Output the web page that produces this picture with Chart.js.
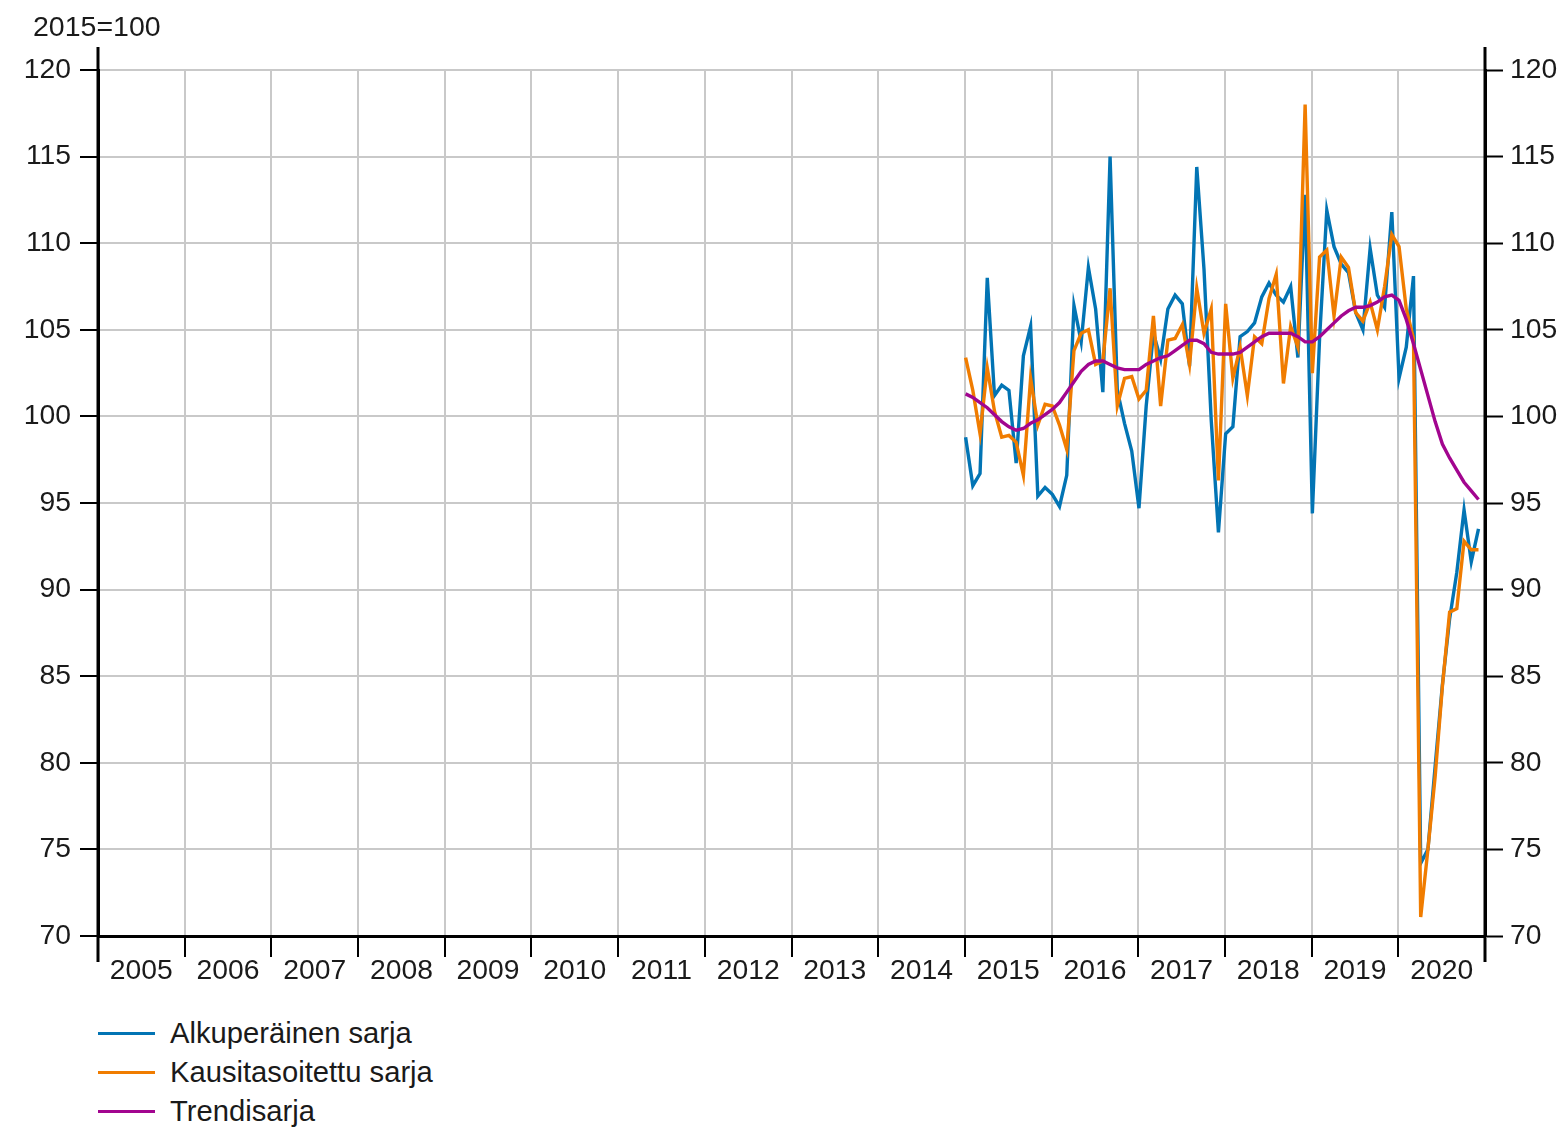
<!DOCTYPE html>
<html><head><meta charset="utf-8">
<script src="https://cdn.jsdelivr.net/npm/chart.js@4/dist/chart.umd.min.js"></script>
<style>
html,body{margin:0;padding:0;background:#fff;}
#wrap{position:relative;width:1568px;height:1128px;overflow:hidden;}
#c{position:absolute;left:0;top:0;}
#unit{position:absolute;left:33px;top:10px;font:28.5px "Liberation Sans",Arial,sans-serif;color:#1a1a1a;line-height:32px;}
#legend{position:absolute;left:98px;top:1014px;font:29.2px "Liberation Sans",Arial,sans-serif;color:#1a1a1a;}
.item{display:flex;align-items:center;height:39px;}
.sw{width:57px;height:3px;margin-right:15px;}
</style></head>
<body><div id="wrap"><canvas id="c" width="1568" height="1000"></canvas><div id="unit">2015=100</div><div id="legend"></div></div>
<script>
// Category (year) labels on the x axis
const years = ["2005","2006","2007","2008","2009","2010","2011","2012","2013","2014","2015","2016","2017","2018","2019","2020"];
// Monthly data, January 2015 - December 2020
const startYear = 2015;
const seriesNames = ["Alkuperäinen sarja", "Kausitasoitettu sarja", "Trendisarja"];
const original = [
  98.8, 96.0, 96.7, 108.0, 101.2, 101.8, 101.5, 97.3, 103.5, 105.2, 95.4, 95.9,
  95.5, 94.8, 96.6, 106.4, 104.3, 108.6, 106.2, 101.4, 115.0, 101.5, 99.6, 98.0,
  94.7, 100.6, 104.8, 103.3, 106.2, 107.0, 106.5, 102.9, 114.4, 108.5, 99.8, 93.3,
  99.0, 99.4, 104.6, 104.9, 105.4, 106.9, 107.7, 107.0, 106.6, 107.5, 103.4, 112.8,
  94.4, 104.5, 111.9, 109.8, 108.8, 108.3, 106.0, 105.0, 109.7, 107.0, 106.3, 111.8,
  102.2, 104.0, 108.1, 74.2, 75.0, 79.8, 84.5, 88.3, 91.0, 94.6, 91.6, 93.5
];
const adjusted = [
  103.4, 101.5, 99.0, 102.8, 100.3, 98.8, 98.9, 98.5, 96.6, 102.2, 99.5, 100.7,
  100.6, 99.5, 98.1, 103.8, 104.8, 105.0, 103.0, 103.2, 107.4, 100.6, 102.2, 102.3,
  101.0, 101.5, 105.8, 100.6, 104.4, 104.5, 105.3, 103.0, 107.4, 104.8, 106.2, 96.3,
  106.5, 102.2, 104.0, 101.2, 104.6, 104.2, 106.8, 108.2, 101.9, 105.2, 104.0, 118.0,
  102.5, 109.2, 109.6, 105.8, 109.2, 108.6, 106.0, 105.5, 106.6, 105.0, 107.5, 110.5,
  109.8, 106.2, 104.5, 71.1, 75.0, 79.2, 84.4, 88.7, 88.9, 92.8, 92.3, 92.3
];
const trend = [
  101.3, 101.1, 100.8, 100.5, 100.1, 99.7, 99.4, 99.2, 99.3, 99.6, 99.8, 100.1,
  100.4, 100.8, 101.4, 102.0, 102.6, 103.0, 103.2, 103.2, 103.0, 102.8, 102.7, 102.7,
  102.7, 103.0, 103.2, 103.4, 103.5, 103.8, 104.1, 104.4, 104.4, 104.2, 103.7, 103.6,
  103.6, 103.6, 103.7, 104.0, 104.3, 104.6, 104.8, 104.8, 104.8, 104.8, 104.6, 104.3,
  104.3, 104.6, 105.0, 105.4, 105.8, 106.1, 106.3, 106.3, 106.4, 106.6, 106.9, 107.0,
  106.7, 105.6, 104.2, 102.7, 101.2, 99.7, 98.4, 97.6, 96.9, 96.2, 95.7, 95.2
];
const yTicks = [70, 75, 80, 85, 90, 95, 100, 105, 110, 115, 120];
const colors = ["#0274b4", "#f07c00", "#a2058f"];

function toPoints(arr){ return arr.map((v,i)=>({x: startYear + (i + 0.1)/12, y: v})); }

const fontSpec = {family: '"Liberation Sans", Arial, sans-serif', size: 28.3};
const textColor = '#1a1a1a';
const gridColor = '#c9c9c9';

const axisExt = {
  id: 'axisExt',
  afterDraw(chart){
    const {ctx, chartArea: a} = chart;
    ctx.save();
    ctx.strokeStyle = '#000';
    ctx.lineWidth = 3;
    ctx.beginPath();
    ctx.moveTo(a.left, a.top - 23); ctx.lineTo(a.left, a.bottom + 26);
    ctx.moveTo(a.right, a.top - 23); ctx.lineTo(a.right, a.bottom + 26);
    ctx.stroke();
    ctx.restore();
  }
};

const chart = new Chart(document.getElementById('c'), {
  type: 'line',
  data: {
    datasets: [
      {label: seriesNames[0], data: toPoints(original), borderColor: colors[0], order: 3},
      {label: seriesNames[1], data: toPoints(adjusted), borderColor: colors[1], order: 2},
      {label: seriesNames[2], data: toPoints(trend), borderColor: colors[2], order: 1}
    ].map(d => Object.assign(d, {xAxisID: 'xd', yAxisID: 'y', borderWidth: 3.4, pointRadius: 0, tension: 0, fill: false}))
  },
  options: {
    responsive: false,
    animation: false,
    layout: {padding: {top: 70, left: 0, right: 0, bottom: 0}},
    plugins: {legend: {display: false}, tooltip: {enabled: false}},
    scales: {
      x: {
        type: 'category', labels: years, offset: true, position: 'bottom',
        grid: {offset: true, color: gridColor, lineWidth: 2, tickColor: '#000', tickWidth: 2, tickLength: 21},
        border: {color: '#000', width: 3},
        ticks: {font: fontSpec, color: textColor, padding: -3, maxRotation: 0, autoSkip: false},
        afterFit: s => { s.height = 64; }
      },
      xd: {type: 'linear', display: false, min: 2005, max: 2021},
      y: {
        type: 'linear', position: 'left', min: 70, max: 120,
        afterBuildTicks: s => { s.ticks = yTicks.map(v => ({value: v})); },
        grid: {color: gridColor, lineWidth: 2, tickColor: '#000', tickWidth: 2, tickLength: 18},
        border: {color: '#000', width: 3},
        ticks: {font: fontSpec, color: textColor, padding: 9},
        afterFit: s => { s.width = 98; }
      },
      y2: {
        type: 'linear', position: 'right', min: 70, max: 120,
        afterBuildTicks: s => { s.ticks = yTicks.map(v => ({value: v})); },
        grid: {drawOnChartArea: false, tickColor: '#000', tickWidth: 2, tickLength: 18},
        border: {color: '#000', width: 3},
        ticks: {font: fontSpec, color: textColor, padding: 7},
        afterFit: s => { s.width = 83; }
      }
    }
  },
  plugins: [axisExt]
});

// HTML legend built from the chart's datasets
const leg = document.getElementById('legend');
chart.data.datasets.forEach(ds => {
  const it = document.createElement('div'); it.className = 'item';
  const sw = document.createElement('span'); sw.className = 'sw'; sw.style.background = ds.borderColor;
  const tx = document.createElement('span'); tx.textContent = ds.label;
  it.appendChild(sw); it.appendChild(tx); leg.appendChild(it);
});
</script>
</body></html>
